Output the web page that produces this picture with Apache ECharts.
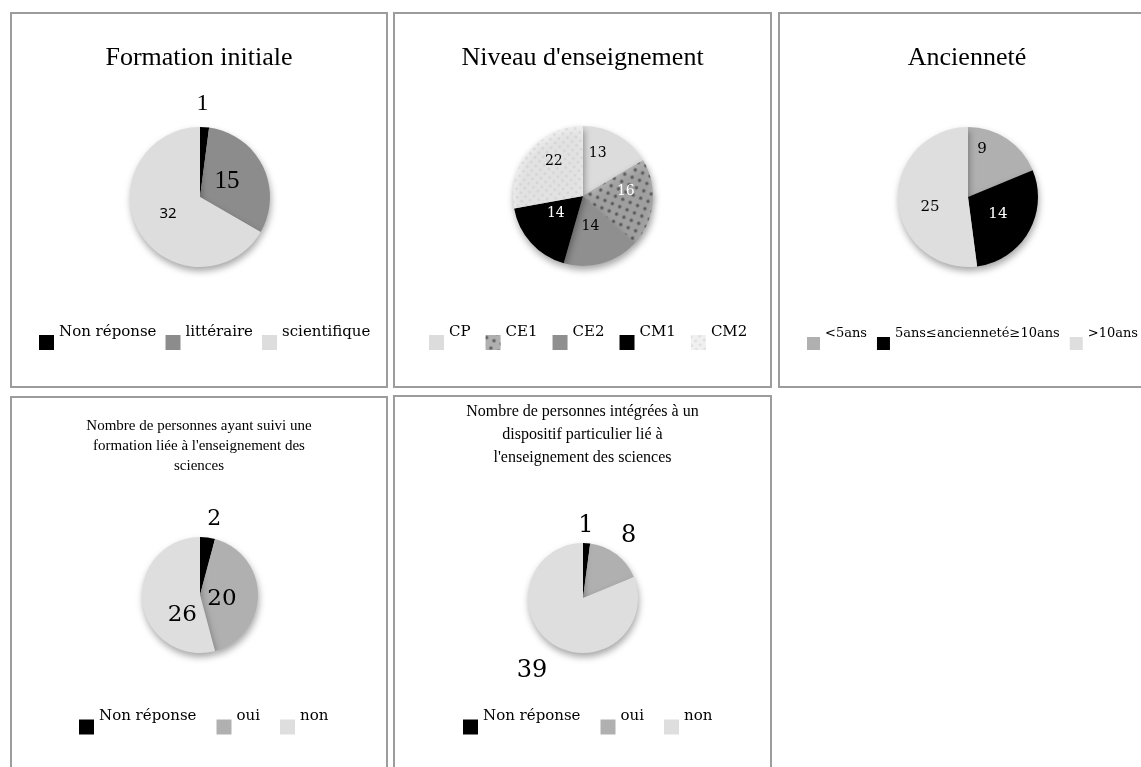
<!DOCTYPE html>
<html>
<head>
<meta charset="utf-8">
<script src="https://cdn.jsdelivr.net/npm/echarts@6/dist/echarts.min.js"></script>
<style>
html,body{margin:0;padding:0;background:#fff;width:1141px;height:767px;overflow:hidden;position:relative;}
.panel{position:absolute;border:2px solid #9c9c9c;background:#fff;}
</style>
</head>
<body>
<div id="p1" class="panel" style="left:10px;top:12px;width:374px;height:372px"></div>
<div id="p2" class="panel" style="left:393px;top:12px;width:375px;height:372px"></div>
<div id="p3" class="panel" style="left:778px;top:12px;width:374px;height:372px"></div>
<div id="p4" class="panel" style="left:10px;top:396px;width:374px;height:400px"></div>
<div id="p5" class="panel" style="left:393px;top:395px;width:375px;height:400px"></div>
<script>
// ---- data ----
const formationTitle = 'Formation initiale';
const formationCategories = ['Non réponse', 'littéraire', 'scientifique'];
const formationValues = [1, 15, 32];

const niveauTitle = "Niveau d'enseignement";
const niveauCategories = ['CP', 'CE1', 'CE2', 'CM1', 'CM2'];
const niveauValues = [13, 16, 14, 14, 22];

const ancienneteTitle = 'Ancienneté';
const ancienneteCategories = ['<5ans', '5ans≤ancienneté≥10ans', '>10ans'];
const ancienneteValues = [9, 14, 25];

const formationSciencesTitle = "Nombre de personnes ayant suivi une\nformation liée à l'enseignement des\nsciences";
const formationSciencesCategories = ['Non réponse', 'oui', 'non'];
const formationSciencesValues = [2, 20, 26];

const dispositifTitle = "Nombre de personnes intégrées à un\ndispositif particulier lié à\nl'enseignement des sciences";
const dispositifCategories = ['Non réponse', 'oui', 'non'];
const dispositifValues = [1, 8, 39];

// ---- styles ----
const SERIF = '"Liberation Serif", "Times New Roman", serif';
const CAMB = '"DejaVu Serif", serif';
const shadow = {shadowBlur: 7, shadowColor: 'rgba(0,0,0,0.35)', shadowOffsetX: 1, shadowOffsetY: 4};

// value label placed inside the slice, nudged by (dx, dy) pixels through rich-text spacing
function lbl(font, size, color, dx, dy) {
  dx = dx || 0; dy = dy || 0;
  const pad = [0, dx < 0 ? -2 * dx : 0, 0, dx > 0 ? 2 * dx : 0];
  const sp = Math.max(1, 2 * Math.abs(dy));
  return {
    show: true, position: 'inside',
    formatter: p => dy < 0 ? '{v|' + p.value + '}\n{s|}' : (dy > 0 ? '{s|}\n{v|' + p.value + '}' : '{v|' + p.value + '}'),
    rich: {
      v: {fontFamily: font, fontSize: size, lineHeight: Math.round(size * 1.2), color: color || '#000', padding: pad},
      s: {fontSize: 1, lineHeight: sp}
    }
  };
}

function build(cfg) {
  const data = cfg.categories.map((name, i) => ({
    name: name, value: cfg.values[i],
    itemStyle: Object.assign({color: cfg.colors[i]}, cfg.decals && cfg.decals[i] ? {decal: cfg.decals[i]} : {}),
    label: cfg.labels[i],
    labelLine: {show: false}
  }));
  return {
    animation: false,
    title: {text: cfg.title, left: 'center', top: cfg.titleTop, padding: 0,
      textStyle: {fontFamily: SERIF, fontWeight: 'normal', fontSize: cfg.titleSize, lineHeight: cfg.titleLH, color: '#000'}},
    legend: {left: cfg.legendLeft, top: cfg.legendTop, padding: 0, itemGap: cfg.legendGap,
      itemWidth: cfg.iconSize, itemHeight: cfg.iconSize, icon: 'rect',
      selectedMode: false, data: cfg.categories,
      formatter: name => '{t|' + name + '}\n{s|}',
      textStyle: {fontFamily: CAMB, fontSize: cfg.legendSize, color: '#000',
        rich: {t: {fontFamily: CAMB, fontSize: cfg.legendSize, lineHeight: 18, color: '#000'},
               s: {fontSize: 4, lineHeight: cfg.legendRaise}}}},
    series: [{
      type: 'pie', center: cfg.center, radius: cfg.radius, startAngle: 90, clockwise: true,
      avoidLabelOverlap: false, silent: true,
      labelLayout: {hideOverlap: false},
      itemStyle: Object.assign({borderWidth: 0}, shadow),
      data: data
    }]
  };
}

const spotDecal = {symbol: 'circle', symbolSize: 0.85, color: 'rgba(60,60,60,0.7)', dashArrayX: 4, dashArrayY: 4, rotation: 0.4};
const softDecal = {symbol: 'circle', symbolSize: 0.8, color: 'rgba(190,190,190,0.45)', dashArrayX: 3, dashArrayY: 3, rotation: 0.7};

const configs = [
  {id: 'p1', title: formationTitle, categories: formationCategories, values: formationValues,
   colors: ['#000000', '#8c8c8c', '#dddddd'], titleTop: 29, titleSize: 26, titleLH: 30,
   center: [188, 183], radius: 70, legendLeft: 27, legendTop: 311, legendGap: 9, iconSize: 15, legendSize: 15, legendRaise: 20,
   labels: [lbl(SERIF, 24, '#000', 0, -55), lbl(SERIF, 25, '#000', -7, 1), lbl('"Noto Sans", sans-serif', 15, '#000', 1, -2)]},
  {id: 'p2', title: niveauTitle, categories: niveauCategories, values: niveauValues,
   colors: ['#dcdcdc', '#b0b0b0', '#8f8f8f', '#000000', '#f0f0f0'], decals: [null, spotDecal, null, null, softDecal],
   titleTop: 29, titleSize: 26, titleLH: 30,
   center: [188, 182], radius: 70, legendLeft: 34, legendTop: 311, legendGap: 15, iconSize: 15, legendSize: 15, legendRaise: 20,
   labels: [lbl(CAMB, 14, '#000', -4, -10), lbl(CAMB, 14, '#fff', 5, -8), lbl(CAMB, 14, '#000', -3, -6),
            lbl(CAMB, 14, '#fff', 1, -8), lbl(CAMB, 14, '#000', 0, -10)]},
  {id: 'p3', title: ancienneteTitle, categories: ancienneteCategories, values: ancienneteValues,
   colors: ['#b0b0b0', '#000000', '#dedede'], titleTop: 29, titleSize: 26, titleLH: 30,
   center: [188, 183], radius: 70, legendLeft: 27, legendTop: 313, legendGap: 10, iconSize: 13, legendSize: 13, legendRaise: 20,
   labels: [lbl(CAMB, 15, '#000', -7, -16), lbl(CAMB, 15, '#fff', -3, -2), lbl(CAMB, 15, '#000', 0, 8)]},
  {id: 'p4', title: formationSciencesTitle, categories: formationSciencesCategories, values: formationSciencesValues,
   colors: ['#000000', '#b0b0b0', '#dedede'], titleTop: 18, titleSize: 15, titleLH: 20,
   center: [188, 197], radius: 58, legendLeft: 67, legendTop: 311, legendGap: 20, iconSize: 15, legendSize: 15, legendRaise: 21,
   labels: [lbl(CAMB, 22, '#000', 10, -44), lbl(CAMB, 23, '#000', -10, 4), lbl(CAMB, 23, '#000', 14, 16)]},
  {id: 'p5', title: dispositifTitle, categories: dispositifCategories, values: dispositifValues,
   colors: ['#000000', '#b0b0b0', '#dedede'], titleTop: 3, titleSize: 16, titleLH: 23,
   center: [188, 201], radius: 55, legendLeft: 68, legendTop: 312, legendGap: 20, iconSize: 15, legendSize: 15, legendRaise: 21,
   labels: [lbl(CAMB, 24, '#000', 1, -42), lbl(CAMB, 24, '#000', 27, -38), lbl(CAMB, 24, '#000', -34, 47)]}
];

configs.forEach(cfg => {
  const chart = echarts.init(document.getElementById(cfg.id), null, {renderer: 'canvas'});
  chart.setOption(build(cfg));
});
</script>
</body>
</html>
